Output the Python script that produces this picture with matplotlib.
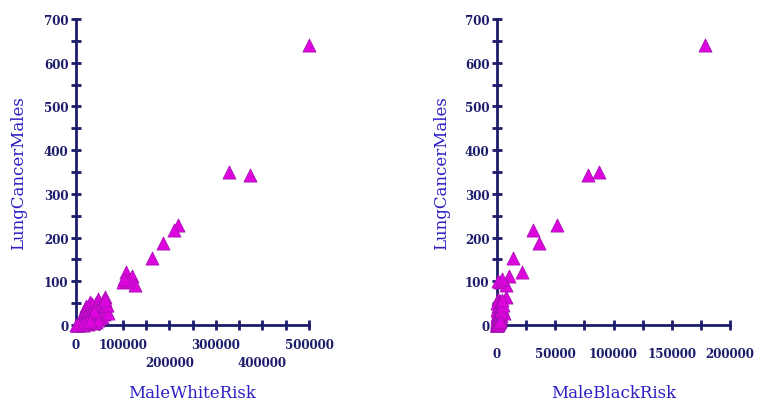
import matplotlib
matplotlib.use("Agg")
import matplotlib.pyplot as plt
from matplotlib.ticker import MultipleLocator, FuncFormatter

# lung cancer cases with the matching white / black risk for each county
lung_males = [640, 349, 343, 228, 217, 187, 154, 121, 111, 98, 92, 100, 105,
              63, 60, 55, 52, 50, 48, 45, 44, 42, 40, 38, 36, 35, 34, 32, 30,
              29, 27, 26, 25, 24, 22, 21, 20, 19, 18, 17, 16, 15, 14, 13, 12,
              11, 10, 9, 8, 7, 6, 5, 4, 3, 2, 1, 1, 0, 0, 2, 5, 8, 12, 28,
              33, 46, 58, 3, 6, 10]
male_white_risk = [500000, 327700, 373400, 219500, 210300, 187400, 162400,
                   107300, 119500, 101500, 126600, 112000, 104000,
                   62000, 48000, 58000, 30000, 42000, 34000, 64000, 22000,
                   26000, 54000, 40000, 20000, 46000, 47000, 30000, 66000,
                   18000, 36000, 60000, 52000, 14000, 28000, 44000, 20000,
                   56000, 12000, 37000, 50000, 25000, 10000, 31000, 18000,
                   41000, 8000, 23000, 14000, 33000, 6000, 11000, 20000, 4000,
                   9000, 2000, 15000, 500, 5000, 26000, 36000, 42000, 48000,
                   68000, 38000, 66000, 63000, 16000, 24000, 30000]
male_black_risk = [178500, 87800, 78400, 51800, 31200, 36300, 13500,
                   21200, 10600, 2600, 7700, 1200, 4500,
                   7700, 600, 2500, 1200, 300, 3000, 1500, 800, 2000, 4500,
                   900, 2200, 400, 1800, 3500, 5400, 600, 1500, 3000, 2800,
                   400, 1000, 3200, 700, 2000, 300, 1900, 2400, 800, 200,
                   1300, 500, 2600, 150, 900, 350, 1600, 100, 250, 600, 80,
                   180, 40, 300, 10, 120, 500, 1100, 1500, 2200, 6200, 3800,
                   5000, 4200, 900, 1700, 3000]

AXIS = "#1c1c6a"
LABEL = "#2b1fc4"
FILL = "#dc06dc"
EDGE = "#a010b0"

plt.rcParams["font.family"] = ["DejaVu Serif"]

fig = plt.figure(figsize=(7.67, 4.02), dpi=100)
ax1 = fig.add_axes([76 / 767, 76 / 402, 233 / 767, 306 / 402])
ax2 = fig.add_axes([497 / 767, 76 / 402, 233 / 767, 306 / 402])


def style(ax, xmax, xstep, xlabel, label_x, xpad):
    for side in ["top", "right"]:
        ax.spines[side].set_visible(False)
    for side in ["left", "bottom"]:
        ax.spines[side].set_color(AXIS)
        ax.spines[side].set_linewidth(2)
    ax.set_xlim(0, xmax)
    ax.set_ylim(0, 700)
    ax.yaxis.set_major_locator(MultipleLocator(100))
    ax.yaxis.set_minor_locator(MultipleLocator(50))
    ax.xaxis.set_major_locator(MultipleLocator(xstep))
    ax.xaxis.set_minor_locator(MultipleLocator(xstep / 2))
    ax.tick_params(which="both", direction="inout", length=7, width=2,
                   color=AXIS, labelcolor=AXIS, labelsize=8.6)
    ax.tick_params(axis="y", pad=2)
    ax.tick_params(axis="x", pad=xpad)
    ax.set_xlabel(xlabel, color=LABEL, fontsize=12)
    ax.set_ylabel("LungCancerMales", color=LABEL, fontsize=12)
    ax.xaxis.label.set_va("center")
    ax.yaxis.label.set_va("center")
    ax.xaxis.set_label_coords(0.5, -0.219)
    ax.yaxis.set_label_coords(label_x, 0.5)
    ax.set_facecolor("none")


style(ax1, 500000, 100000, "MaleWhiteRisk", -0.245, 6)
ax1.xaxis.set_major_formatter(
    FuncFormatter(lambda v, p: ("\n" if int(v) in (200000, 400000) else "") + f"{int(v)}"))
style(ax2, 200000, 50000, "MaleBlackRisk", -0.236, 12)
ax2.xaxis.set_minor_locator(MultipleLocator(25000))

fig.canvas.draw()
for ax in (ax1, ax2):
    for t in ax.get_xticklabels() + ax.get_yticklabels():
        t.set_fontweight("bold")
        t.set_linespacing(1.45)

ax1.scatter(male_white_risk, lung_males, marker="^", s=90, c=FILL,
            edgecolors=EDGE, linewidths=0.5, clip_on=False, zorder=3)
ax2.scatter(male_black_risk, lung_males, marker="^", s=90, c=FILL,
            edgecolors=EDGE, linewidths=0.5, clip_on=False, zorder=3)

fig.savefig("out.png", dpi=100)
